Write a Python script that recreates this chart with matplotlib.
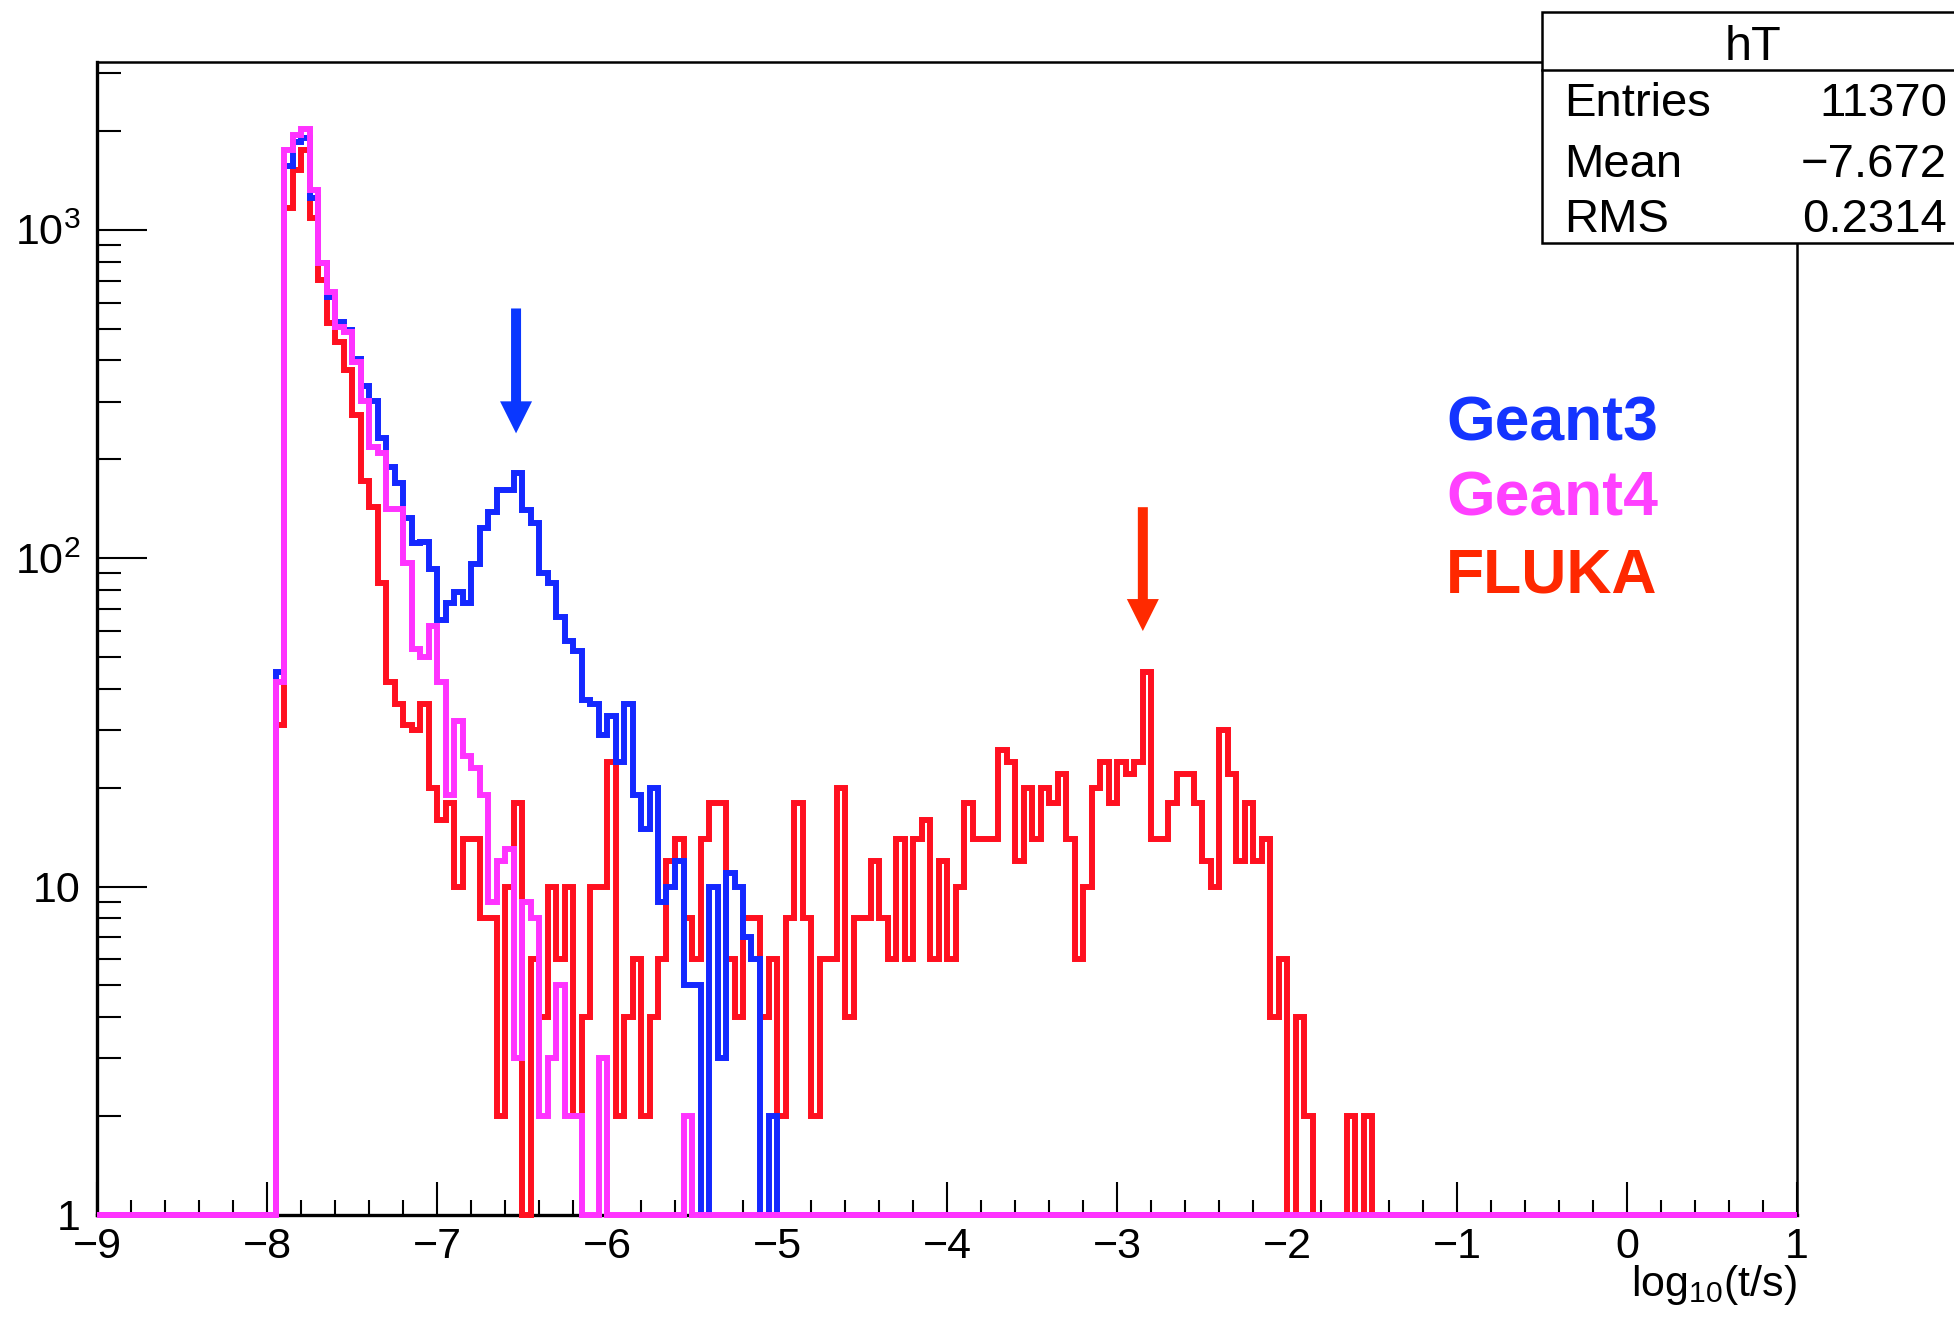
import numpy as np
import matplotlib
matplotlib.use("Agg")
import matplotlib.pyplot as plt
from matplotlib.patches import Rectangle
from matplotlib.lines import Line2D
from matplotlib.ticker import (FixedLocator, FixedFormatter, MultipleLocator,
                               LogLocator, NullFormatter)

plt.rcParams["font.family"] = ["Liberation Sans", "DejaVu Sans"]
plt.rcParams["mathtext.default"] = "regular"

# histogram hT: bins of 0.05 in log10(t/s), first filled bin starts at -7.95
X_MIN, X_MAX = -9.0, 1.0
BIN_WIDTH = 0.05
FIRST_EDGE = -7.95

geant3 = [45, 1560, 1850, 1900, 1250, 790, 625, 525, 495, 405,
          335, 302, 233, 190, 169, 133, 111, 112, 93, 65,
          73, 79, 73, 96, 124, 138, 161, 161, 182, 140,
          128, 90, 84, 66, 56, 52, 37, 36, 29, 33,
          24, 36, 19, 15, 20, 9, 10, 12, 5, 5,
          0, 10, 3, 11, 10, 7, 6, 0, 2]

geant4 = [42, 1750, 1945, 2030, 1320, 790, 645, 505, 490, 395,
          302, 218, 209, 141, 141, 97, 53, 50, 62, 42,
          19, 32, 25, 23, 19, 9, 12, 13, 3, 9,
          8, 2, 3, 5, 2, 2, 0, 0, 3, 0,
          0, 0, 0, 0, 0, 0, 0, 0, 2]

fluka = [31, 1168, 1516, 1745, 1090, 703, 520, 455, 373, 272,
         172, 143, 84, 42, 36, 31, 30, 36, 20, 16,
         18, 10, 14, 14, 8, 8, 2, 10, 18, 0,
         6, 4, 10, 6, 10, 2, 4, 10, 10, 24,
         2, 4, 6, 2, 4, 6, 12, 14, 8, 6,
         14, 18, 18, 6, 4, 8, 8, 4, 6, 2,
         8, 18, 8, 2, 6, 6, 20, 4, 8, 8,
         12, 8, 6, 14, 6, 14, 16, 6, 12, 6,
         10, 18, 14, 14, 14, 26, 24, 12, 20, 14,
         20, 18, 22, 14, 6, 10, 20, 24, 18, 24,
         22, 24, 45, 14, 14, 18, 22, 22, 18, 12,
         10, 30, 22, 12, 18, 12, 14, 4, 6, 0,
         4, 2, 0, 0, 0, 0, 2, 0, 2]

y_ticks = [1, 10, 100, 1000]
y_tick_labels = ["1", "10", "$10^{2}$", "$10^{3}$"]
Y_MAX = 3243

stats_title = "hT"
stats_rows = [("Entries", "11370"), ("Mean", "\u22127.672"), ("RMS", "0.2314")]

legend_labels = ["Geant3", "Geant4", "FLUKA"]
legend_colors = ["#1434ff", "#ff40ff", "#ff2800"]

# arrows marking the late components (x, tail count, tip count)
blue_arrow = (-6.535, 576, 240)
red_arrow = (-2.848, 143, 60)

BLUE = "#1428ff"
MAGENTA = "#ff33ff"
RED = "#ff1020"

n_bins = int(round((X_MAX - X_MIN) / BIN_WIDTH))
edges = np.linspace(X_MIN, X_MAX, n_bins + 1)


def full_hist(vals):
    out = np.zeros(n_bins)
    start = int(round((FIRST_EDGE - X_MIN) / BIN_WIDTH))
    out[start:start + len(vals)] = vals
    # empty bins sit on the axis minimum like in ROOT
    return np.maximum(out, 1)


W, H = 1954, 1326
fig = plt.figure(figsize=(W / 100, H / 100), dpi=100)
ax = fig.add_axes([97 / W, 1 - 1215 / H, 1700 / W, (1215 - 62) / H])

for vals, col, z in [(fluka, RED, 3), (geant3, BLUE, 4), (geant4, MAGENTA, 5)]:
    ax.stairs(full_hist(vals), edges, baseline=None, color=col, lw=4.3,
              zorder=z, clip_on=False, joinstyle="miter")

ax.set_yscale("log")
ax.set_xlim(X_MIN, X_MAX)
ax.set_ylim(1, Y_MAX)

ax.xaxis.set_major_locator(MultipleLocator(1))
ax.xaxis.set_minor_locator(MultipleLocator(0.2))
ax.yaxis.set_major_locator(FixedLocator(y_ticks))
ax.yaxis.set_major_formatter(FixedFormatter(y_tick_labels))
ax.yaxis.set_minor_locator(LogLocator(base=10, subs=np.arange(2, 10)))
ax.yaxis.set_minor_formatter(NullFormatter())

ax.tick_params(axis="x", which="major", direction="in", length=23.8, width=1.5,
               labelsize=31, pad=9)
ax.tick_params(axis="x", which="minor", direction="in", length=10.8, width=1.5)
ax.tick_params(axis="y", which="major", direction="in", length=36, width=1.5,
               labelsize=31, pad=12)
ax.tick_params(axis="y", which="minor", direction="in", length=17.3, width=1.5)
for s in ax.spines.values():
    s.set_linewidth(1.8)
ax.spines["left"].set_linewidth(2.4)
ax.spines["bottom"].set_linewidth(2.4)

fig.text(1797 / W, 1 - 1296 / H, r"log$_{10}$(t/s)", ha="right", va="baseline",
         fontsize=31)

# arrows
for (ax_x, y_tail, y_tip), col in [(blue_arrow, "#0a37ff"), (red_arrow, "#ff2a00")]:
    ax.annotate("", xy=(ax_x, y_tip), xytext=(ax_x, y_tail),
                arrowprops=dict(arrowstyle="simple,head_width=1.28,head_length=1.28,tail_width=0.4",
                                color=col, mutation_scale=18, shrinkA=0, shrinkB=0, lw=0),
                zorder=6)

# legend text
for lab, col, yc in zip(legend_labels, legend_colors, [424, 498.5, 576]):
    fig.text(1446 / W, 1 - yc / H, lab, color=col, fontsize=45, fontweight="bold",
             ha="left", va="center")

# stats box
box_l, box_t, box_b, sep = 1542, 12, 243, 70
fig.add_artist(Rectangle((box_l / W, 1 - box_b / H), 0.3, (box_b - box_t) / H,
                         transform=fig.transFigure, facecolor="white",
                         edgecolor="black", lw=1.8, zorder=10))
fig.add_artist(Line2D([box_l / W, 1.05], [1 - sep / H] * 2, transform=fig.transFigure,
                      color="black", lw=1.8, zorder=11))
fig.text(1753 / W, 1 - 48 / H, stats_title, ha="center", va="center", fontsize=35,
         zorder=12)
for (lab, val), yc in zip(stats_rows, [104, 165, 220]):
    fig.text(1564 / W, 1 - yc / H, lab, ha="left", va="center", fontsize=34, zorder=12)
    fig.text(1947 / W, 1 - yc / H, val, ha="right", va="center", fontsize=34, zorder=12)

fig.savefig("out.png", dpi=100)
